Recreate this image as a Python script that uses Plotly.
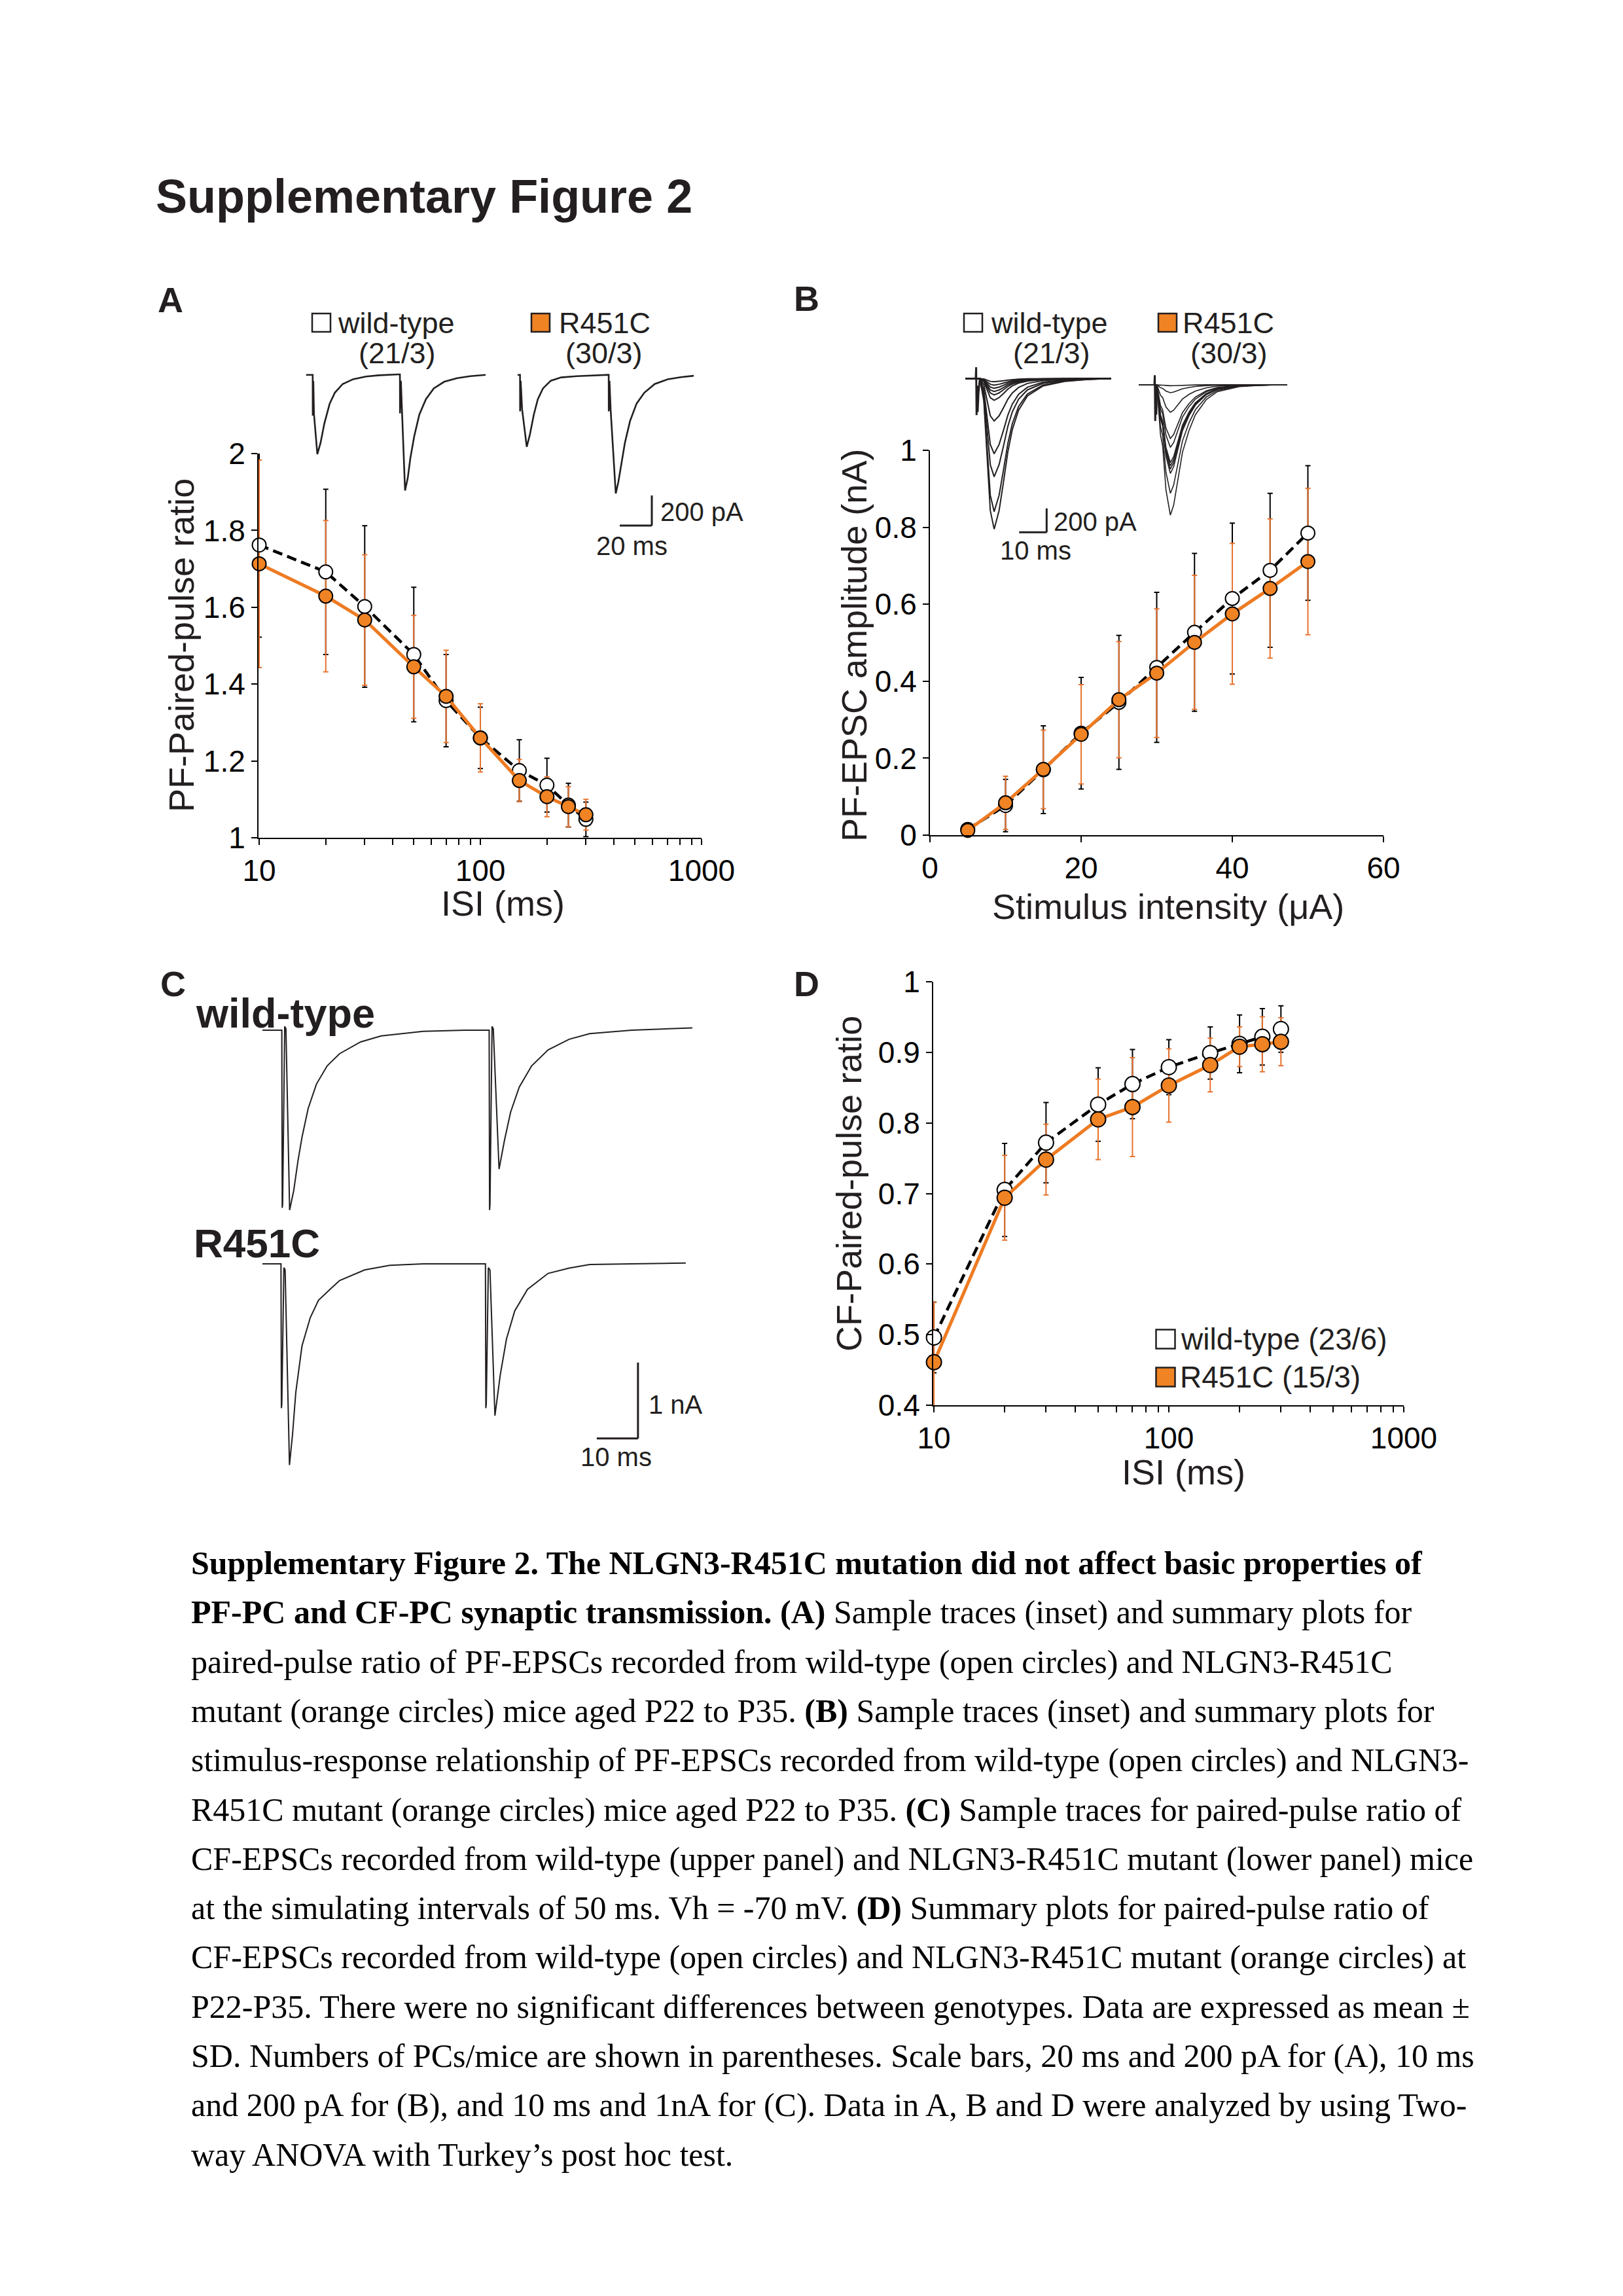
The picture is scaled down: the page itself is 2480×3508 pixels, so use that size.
import math
import plotly.graph_objects as go

# ---------------- data ----------------
isi = [10, 20, 30, 50, 70, 100, 150, 200, 250, 300]
a_wt = [1.762, 1.692, 1.602, 1.477, 1.357, 1.26, 1.175, 1.137, 1.085, 1.048]
a_wt_sd = [0.24, 0.215, 0.21, 0.175, 0.12, 0.08, 0.08, 0.07, 0.057, 0.045]
a_ko = [1.713, 1.629, 1.567, 1.445, 1.368, 1.26, 1.149, 1.107, 1.081, 1.06]
a_ko_sd = [0.27, 0.197, 0.17, 0.134, 0.12, 0.089, 0.055, 0.052, 0.052, 0.04]

stim = [5, 10, 15, 20, 25, 30, 35, 40, 45, 50]
b_wt = [0.015, 0.077, 0.17, 0.265, 0.345, 0.436, 0.527, 0.615, 0.688, 0.785]
b_wt_sd = [0.01, 0.068, 0.114, 0.145, 0.174, 0.195, 0.205, 0.196, 0.2, 0.175]
b_ko = [0.0125, 0.084, 0.171, 0.262, 0.352, 0.421, 0.501, 0.575, 0.641, 0.711]
b_ko_sd = [0.01, 0.069, 0.102, 0.129, 0.151, 0.167, 0.174, 0.183, 0.181, 0.19]

d_wt = [0.496, 0.705, 0.772, 0.826, 0.855, 0.879, 0.899, 0.912, 0.922, 0.933]
d_wt_sd = [0.05, 0.066, 0.057, 0.052, 0.049, 0.039, 0.037, 0.041, 0.04, 0.033]
d_ko = [0.461, 0.694, 0.748, 0.805, 0.8225, 0.853, 0.882, 0.908, 0.9115, 0.915]
d_ko_sd = [0.085, 0.06, 0.05, 0.057, 0.07, 0.052, 0.038, 0.028, 0.039, 0.034]

log_ticks = [10, 20, 30, 40, 50, 60, 70, 80, 90, 100, 200, 300, 400, 500, 600, 700, 800, 900, 1000]
log_text = ["10", "", "", "", "", "", "", "", "", "100", "", "", "", "", "", "", "", "", "1000"]

# inset A sample traces (ms, pA)
ia_t_wt = [0, 4.2, 4.25, 4.6, 5.0, 7.1, 9.1, 11.5, 14.8, 18.0, 22.9, 29.4, 37.5, 45.6, 57.8,
           58.6, 58.65, 59.2, 59.9, 61.8, 63.5, 65.1, 67.5, 70.7, 74.8, 79.7, 86.2, 94.3, 102.4, 112.1]
ia_i_wt = [0, 0, -271, -40, -260, -527, -452, -322, -191, -119, -61, -29, -11, -3, 3,
           3, -256, -40, -240, -768, -684, -553, -409, -264, -162, -90, -46, -22, -9, 0]
ia_t_ko = [0, 1.6, 1.65, 2.0, 2.9, 5.8, 7.8, 10.2, 12.7, 15.9, 20.8, 27.3, 37.0, 56.4,
           56.9, 56.95, 57.4, 58.1, 61.3, 62.9, 64.6, 67.0, 70.2, 74.3, 79.1, 85.6, 93.8, 101.9, 110.0]
ia_i_ko = [0, 0, -242, -40, -230, -478, -394, -264, -162, -90, -39, -17, -9, 0,
           0, -242, -40, -230, -788, -713, -597, -452, -307, -191, -119, -61, -29, -15, -6]

# inset B trace families (ms, normalised shape, pA amplitudes)
ib_t_wt = [0, 5.3, 6.75, 7.5, 9.1, 10.5, 12.3, 13.9, 15.5, 17.1, 19.4, 22.6, 28.2, 36.1, 44.0, 53.1]
ib_f_wt = [0, 0, 0.15, 0.37, 0.877, 1.0, 0.877, 0.688, 0.486, 0.34, 0.21, 0.116, 0.05, 0.019, 0.007, 0]
ib_amp_wt = [27, 55, 82, 109, 137, 182, 355, 628, 820, 1111, 1257]
ib_art_t_wt = [3.8, 3.95, 4.1, 4.3, 4.5, 4.8, 5.3]
ib_art_i_wt = [0, 94, -306, -60, -280, -120, 0]
ib_t_ko = [0, 6.6, 7.9, 8.7, 9.9, 11.5, 12.7, 14.3, 15.9, 18.3, 20.6, 24.6, 28.6, 36.5, 44.4, 54.0]
ib_f_ko = [0, 0, 0.383, 0.468, 0.806, 1.0, 0.924, 0.721, 0.519, 0.35, 0.231, 0.113, 0.054, 0.015, 0.005, 0]
ib_amp_ko = [9, 67, 231, 450, 523, 650, 677, 705, 741, 907, 1089]
ib_art_t_ko = [5.7, 5.85, 6.0, 6.2, 6.4, 6.6]
ib_art_i_ko = [0, 79, -304, -80, -250, 0]

# panel C sample traces (ms, nA)
c_t_wt = [0, 4.7, 4.8, 4.9, 5.4, 5.7, 6.6, 7.6, 8.6, 9.6, 11.1, 13.1, 15.7, 18.7, 23.8, 28.8, 39.0, 49.1,
          55.0, 55.1, 55.2, 55.7, 56.0, 57.4, 58.7, 60.2, 62.3, 65.3, 69.3, 74.4, 79.4, 89.6, 104.3]
c_i_wt = [0, 0, -2.34, -2.3, 0.05, 0.02, -2.37, -2.11, -1.73, -1.41, -1.03, -0.71, -0.47, -0.31, -0.155, -0.076, -0.015, 0.0,
          0.0, -2.37, -2.3, 0.05, 0.02, -1.83, -1.455, -1.08, -0.75, -0.47, -0.26, -0.12, -0.045, 0.0, 0.03]
c_t_ko = [0, 4.5, 4.6, 4.7, 5.2, 5.5, 6.56, 7.3, 8.1, 9.6, 11.6, 13.6, 18.7, 24.8, 30.9, 39.0,
          54.1, 54.2, 54.3, 54.8, 55.2, 56.4, 57.7, 59.2, 61.2, 64.3, 69.3, 74.4, 79.4, 89.6, 102.7]
c_i_ko = [0, 0, -1.9, -1.85, -0.05, -0.08, -2.65, -2.25, -1.69, -1.08, -0.71, -0.48, -0.22, -0.08, -0.02, 0.0,
          0.0, -1.9, -1.85, -0.05, -0.08, -2.0, -1.46, -0.99, -0.62, -0.336, -0.126, -0.056, -0.01, 0.0, 0.01]

caption_lines = [
    "<b>Supplementary Figure 2. The NLGN3-R451C mutation did not affect basic properties of</b>",
    "<b>PF-PC and CF-PC synaptic transmission. (A)</b> Sample traces (inset) and summary plots for",
    "paired-pulse ratio of PF-EPSCs recorded from wild-type (open circles) and NLGN3-R451C",
    "mutant (orange circles) mice aged P22 to P35. <b>(B)</b> Sample traces (inset) and summary plots for",
    "stimulus-response relationship of PF-EPSCs recorded from wild-type (open circles) and NLGN3-",
    "R451C mutant (orange circles) mice aged P22 to P35. <b>(C)</b> Sample traces for paired-pulse ratio of",
    "CF-EPSCs recorded from wild-type (upper panel) and NLGN3-R451C mutant (lower panel) mice",
    "at the simulating intervals of 50 ms. Vh = -70 mV. <b>(D)</b> Summary plots for paired-pulse ratio of",
    "CF-EPSCs recorded from wild-type (open circles) and NLGN3-R451C mutant (orange circles) at",
    "P22-P35. There were no significant differences between genotypes. Data are expressed as mean \u00b1",
    "SD. Numbers of PCs/mice are shown in parentheses. Scale bars, 20 ms and 200 pA for (A), 10 ms",
    "and 200 pA for (B), and 10 ms and 1nA for (C). Data in A, B and D were analyzed by using Two-",
    "way ANOVA with Turkey\u2019s post hoc test.",
]

# ---------------- layout helpers ----------------
W, H, OFF = 2464, 3492, 8
SANS = "Liberation Sans"
SERIF = "Liberation Serif"
ORANGE = "#F08323"
ORANGE_LINE = "#EE7B22"
ORANGE_ERR = "#E8732E"
TRACE = "#231f20"


def fx(px):
    return (px - OFF) / W


def fy(py):
    return 1 - (py - OFF) / H


def xdom(l, r):
    return [fx(l), fx(r)]


def ydom(top, bottom):
    return [fy(bottom), fy(top)]


fig = go.Figure()


def panel_traces(x, wt, wt_sd, ko, ko_sd, xa, ya, msize):
    common = dict(xaxis=xa, yaxis=ya, showlegend=False, hoverinfo="skip")
    fig.add_trace(go.Scatter(x=x, y=wt, mode="markers", cliponaxis=True,
                             marker=dict(size=1, color="rgba(0,0,0,0)"),
                             error_y=dict(type="data", array=wt_sd, color="black", thickness=2, width=4),
                             **common))
    fig.add_trace(go.Scatter(x=x, y=ko, mode="markers", cliponaxis=True,
                             marker=dict(size=1, color="rgba(0,0,0,0)"),
                             error_y=dict(type="data", array=ko_sd, color=ORANGE_ERR, thickness=2, width=4),
                             **common))
    fig.add_trace(go.Scatter(x=x, y=wt, mode="lines+markers", cliponaxis=False,
                             line=dict(color="black", width=4.5, dash="15px,8px"),
                             marker=dict(size=msize, color="white", line=dict(color="black", width=2)),
                             **common))
    fig.add_trace(go.Scatter(x=x, y=ko, mode="lines+markers", cliponaxis=False,
                             line=dict(color=ORANGE_LINE, width=5),
                             marker=dict(size=msize, color=ORANGE, line=dict(color="black", width=2)),
                             **common))


panel_traces(isi, a_wt, a_wt_sd, a_ko, a_ko_sd, "x", "y", 21)
panel_traces(stim, b_wt, b_wt_sd, b_ko, b_ko_sd, "x2", "y2", 21)
panel_traces(isi, d_wt, d_wt_sd, d_ko, d_ko_sd, "x3", "y3", 23)

fig.add_trace(go.Scatter(x=ia_t_wt, y=ia_i_wt, mode="lines", xaxis="x4", yaxis="y4", showlegend=False,
                         line=dict(color=TRACE, width=2.6)))
fig.add_trace(go.Scatter(x=ia_t_ko, y=ia_i_ko, mode="lines", xaxis="x5", yaxis="y5", showlegend=False,
                         line=dict(color=TRACE, width=2.6)))

for amp in ib_amp_wt:
    fig.add_trace(go.Scatter(x=ib_t_wt, y=[-amp * f for f in ib_f_wt], mode="lines", xaxis="x6", yaxis="y6",
                             showlegend=False, line=dict(color=TRACE, width=2)))
fig.add_trace(go.Scatter(x=ib_art_t_wt, y=ib_art_i_wt, mode="lines", xaxis="x6", yaxis="y6",
                         showlegend=False, line=dict(color=TRACE, width=3)))
for amp in ib_amp_ko:
    fig.add_trace(go.Scatter(x=ib_t_ko, y=[-amp * f for f in ib_f_ko], mode="lines", xaxis="x7", yaxis="y7",
                             showlegend=False, line=dict(color=TRACE, width=1.6)))
fig.add_trace(go.Scatter(x=ib_art_t_ko, y=ib_art_i_ko, mode="lines", xaxis="x7", yaxis="y7",
                         showlegend=False, line=dict(color=TRACE, width=3)))

fig.add_trace(go.Scatter(x=c_t_wt, y=c_i_wt, mode="lines", xaxis="x8", yaxis="y8", showlegend=False,
                         line=dict(color=TRACE, width=2)))
fig.add_trace(go.Scatter(x=c_t_ko, y=c_i_ko, mode="lines", xaxis="x9", yaxis="y9", showlegend=False,
                         line=dict(color=TRACE, width=2)))

tickfont = dict(family=SANS, size=46, color="black")
main_ax = dict(showline=True, linecolor="black", linewidth=2, ticks="outside", ticklen=9, tickwidth=2,
               tickcolor="black", showgrid=False, zeroline=False, tickfont=tickfont, fixedrange=True,
               automargin=False)
hidden = dict(visible=False, showgrid=False, zeroline=False, fixedrange=True, automargin=False)

lay = dict(
    width=W, height=H, autosize=False,
    margin=dict(l=0, r=0, t=0, b=0, pad=0, autoexpand=False),
    paper_bgcolor="white", plot_bgcolor="rgba(0,0,0,0)", showlegend=False,
    font=dict(family=SANS, color="black"),
)
lay["xaxis"] = dict(main_ax, type="log", range=[math.log10(9.93), 3], domain=xdom(395, 1072), anchor="y",
                    tickvals=log_ticks, ticktext=log_text)
lay["yaxis"] = dict(main_ax, range=[1, 2], dtick=0.2, tick0=1, domain=ydom(693, 1280), anchor="x")
lay["xaxis2"] = dict(main_ax, range=[0, 60], dtick=20, domain=xdom(1421, 2114), anchor="y2")
lay["yaxis2"] = dict(main_ax, range=[0, 1], dtick=0.2, domain=ydom(688, 1276), anchor="x2")
lay["xaxis3"] = dict(main_ax, type="log", range=[math.log10(9.93), 3], domain=xdom(1426, 2145), anchor="y3",
                     tickvals=log_ticks, ticktext=log_text)
lay["yaxis3"] = dict(main_ax, range=[0.4, 1.0], dtick=0.1, tick0=0.4, domain=ydom(1500, 2147), anchor="x3")
lay["xaxis4"] = dict(hidden, range=[0, 112.1], domain=xdom(467.5, 742.2), anchor="y4")
lay["yaxis4"] = dict(hidden, range=[-1053, 77], domain=ydom(555, 815), anchor="x4")
lay["xaxis5"] = dict(hidden, range=[0, 110.0], domain=xdom(790.7, 1060.2), anchor="y5")
lay["yaxis5"] = dict(hidden, range=[-1053, 77], domain=ydom(555, 815), anchor="x5")
lay["xaxis6"] = dict(hidden, range=[0, 53.1], domain=xdom(1475, 1698), anchor="y6")
lay["yaxis6"] = dict(hidden, range=[-1293, 154.6], domain=ydom(550, 815), anchor="x6")
lay["xaxis7"] = dict(hidden, range=[0, 54.0], domain=xdom(1740, 1967), anchor="y7")
lay["yaxis7"] = dict(hidden, range=[-1242, 206], domain=ydom(550, 815), anchor="x7")
lay["xaxis8"] = dict(hidden, range=[0, 104.3], domain=xdom(401, 1058), anchor="y8")
lay["yaxis8"] = dict(hidden, range=[-2.466, 0.293], domain=ydom(1540, 1860), anchor="x8")
lay["xaxis9"] = dict(hidden, range=[0, 104.3], domain=xdom(401, 1058), anchor="y9")
lay["yaxis9"] = dict(hidden, range=[-2.75, 0.353], domain=ydom(1890, 2250), anchor="x9")

fig.update_layout(**lay)

shapes = []


def seg(xref, yref, x0, y0, x1, y1, w=3):
    shapes.append(dict(type="line", xref=xref, yref=yref, x0=x0, y0=y0, x1=x1, y1=y1,
                       line=dict(color=TRACE, width=w)))


seg("x5", "y5", 83.8, -801, 83.8, -1001)
seg("x5", "y5", 63.8, -1001, 83.8, -1001)
seg("x6", "y6", 29.6, -1084, 29.6, -1284)
seg("x6", "y6", 19.6, -1284, 29.6, -1284)
seg("x9", "y9", 91.1, -1.3, 91.1, -2.3)
seg("x9", "y9", 81.1, -2.3, 91.1, -2.3)


def box(cx, cy, size, fill):
    h = size / 2
    shapes.append(dict(type="rect", xref="paper", yref="paper",
                       x0=fx(cx - h), x1=fx(cx + h), y0=fy(cy + h), y1=fy(cy - h),
                       line=dict(color=TRACE, width=2.5), fillcolor=fill))


box(491, 493, 28, "white")
box(826, 493, 28, ORANGE)
box(1487, 493, 28, "white")
box(1784, 493, 28, ORANGE)
box(1781, 2046, 29, "white")
box(1781, 2104, 29, ORANGE)

fig.update_layout(shapes=shapes)

ann = []


def text(t, x, y, size, xanchor="left", family=SANS, angle=0):
    ann.append(dict(text=t, x=fx(x), y=fy(y), xref="paper", yref="paper", showarrow=False,
                    xanchor=xanchor, yanchor="middle", textangle=angle,
                    font=dict(family=family, size=size, color=TRACE)))


text("<b>Supplementary Figure 2</b>", 236, 300, 72)
text("<b>A</b>", 260, 458, 54, "center")
text("<b>B</b>", 1232, 456, 54, "center")
text("<b>C</b>", 264, 1503, 54, "center")
text("<b>D</b>", 1232, 1503, 54, "center")

text("wild-type", 514, 494, 45)
text("(21/3)", 607, 539, 45, "center")
text("R451C", 852, 494, 45)
text("(30/3)", 923, 539, 45, "center")
text("wild-type", 1512, 494, 45)
text("(21/3)", 1607, 539, 45, "center")
text("R451C", 1805, 494, 45)
text("(30/3)", 1878, 539, 45, "center")
text("wild-type (23/6)", 1802, 2046, 46)
text("R451C (15/3)", 1801, 2104, 46)

text("200 pA", 1007, 782, 40)
text("20 ms", 965, 834, 40, "center")
text("200 pA", 1608, 797, 40)
text("10 ms", 1582, 841, 40, "center")
text("1 nA", 989, 2146, 40)
text("10 ms", 941, 2226, 40, "center")

text("<b>wild-type</b>", 297, 1548, 63)
text("<b>R451C</b>", 294, 1900, 62)

text("PF-Paired-pulse ratio", 277, 986, 54, "center", angle=-90)
text("ISI (ms)", 768, 1380, 54, "center")
text("PF-EPSC amplitude (nA)", 1305, 986, 54, "center", angle=-90)
text("Stimulus intensity (\u03bcA)", 1785, 1385, 54, "center")
text("CF-Paired-pulse ratio", 1297, 1809, 54, "center", angle=-90)
text("ISI (ms)", 1808, 2249, 54, "center")

for i, line in enumerate(caption_lines):
    ann.append(dict(text=line, x=fx(290), y=fy(2388 + 75.3 * i), xref="paper", yref="paper",
                    showarrow=False, xanchor="left", yanchor="middle",
                    font=dict(family=SERIF, size=50, color="black")))

fig.update_layout(annotations=ann)

fig.write_html("out.html")
